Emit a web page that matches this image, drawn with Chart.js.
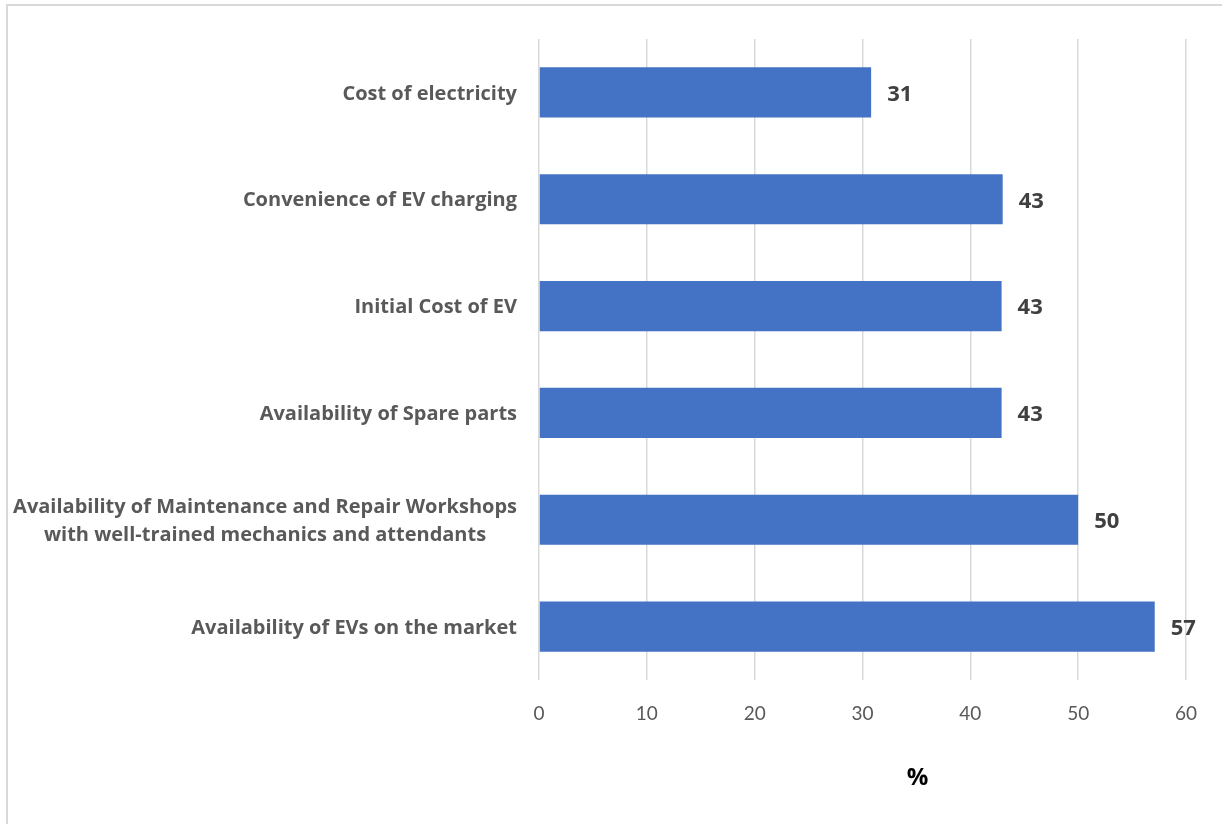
<!DOCTYPE html>
<html>
<head>
<meta charset="utf-8">
<script src="https://cdn.jsdelivr.net/npm/chart.js@4.4.0/dist/chart.umd.min.js"></script>
<style>
  html, body { margin: 0; padding: 0; background: #fff; }
  #wrap { position: relative; width: 1222px; height: 824px; overflow: hidden; }
  #frame { position: absolute; left: 6px; top: 4px; width: 1300px; height: 900px;
           border-top: 2px solid #d9d9d9; border-left: 2px solid #d9d9d9; }
  canvas { position: absolute; left: 0; top: 0; }
</style>
</head>
<body>
<div id="wrap">
  <div id="frame"></div>
  <canvas id="chart" width="1222" height="824"></canvas>
</div>
<script>
// categories, top to bottom
const categories = [
    'Cost of electricity',
    'Convenience of EV charging',
    'Initial Cost of EV',
    'Availability of Spare parts',
    ['Availability of Maintenance and Repair Workshops', 'with well-trained mechanics and attendants'],
    'Availability of EVs on the market'
];
// share of respondents, %
const values = [30.8, 43.0, 42.9, 42.9, 50.0, 57.1];
const xTicks = [0, 10, 20, 30, 40, 50, 60];
const xTitle = '%';

const LABEL_FONT = '"Open Sans", sans-serif';
const TICK_FONT = 'Lato, "Open Sans", sans-serif';

// y-axis labels drawn by hand so the two-line label stays centred on itself
const yLabelPlugin = {
    id: 'yLabels',
    afterDraw(chart) {
        const ctx = chart.ctx;
        const yScale = chart.scales.y;
        const right = chart.chartArea.left - 22;
        ctx.save();
        ctx.font = 'bold 20px ' + LABEL_FONT;
        ctx.fillStyle = '#595959';
        ctx.textAlign = 'center';
        ctx.textBaseline = 'middle';
        categories.forEach((lab, i) => {
            const lines = Array.isArray(lab) ? lab : [lab];
            const widest = Math.max(...lines.map(l => ctx.measureText(l).width));
            const cx = right - widest / 2;
            const y = yScale.getPixelForTick(i) + 1.5;
            const lh = 28;
            lines.forEach((l, j) => {
                ctx.fillText(l, cx, y + (j - (lines.length - 1) / 2) * lh);
            });
        });
        ctx.restore();
    }
};

// value at the end of each bar + the "%" axis title
const valueLabelPlugin = {
    id: 'valueLabels',
    afterDatasetsDraw(chart) {
        const ctx = chart.ctx;
        const meta = chart.getDatasetMeta(0);
        ctx.save();
        ctx.font = 'bold 22px ' + LABEL_FONT;
        ctx.fillStyle = '#404040';
        ctx.textAlign = 'left';
        ctx.textBaseline = 'middle';
        meta.data.forEach((bar, i) => {
            ctx.fillText(Math.round(values[i]), bar.x + 16, bar.y + 2);
        });
        const a = chart.chartArea;
        ctx.font = 'bold 24px ' + LABEL_FONT;
        ctx.fillStyle = '#000';
        ctx.textAlign = 'center';
        ctx.fillText(xTitle, (a.left + a.right) / 2 + 55, 778);
        ctx.restore();
    }
};

new Chart(document.getElementById('chart'), {
    type: 'bar',
    data: {
        labels: categories,
        datasets: [{
            data: values,
            backgroundColor: '#4472C4',
            categoryPercentage: 1,
            barPercentage: 0.47
        }]
    },
    options: {
        indexAxis: 'y',
        responsive: false,
        animation: false,
        layout: { padding: { top: 39, right: 36, left: 0, bottom: 0 } },
        plugins: {
            legend: { display: false },
            tooltip: { enabled: false }
        },
        scales: {
            x: {
                min: 0,
                max: 60,
                afterBuildTicks: s => { s.ticks = xTicks.map(v => ({ value: v })); },
                afterFit: s => { s.height = 144; },
                border: { display: false },
                grid: { color: '#d9d9d9', lineWidth: 1.5, drawTicks: false },
                ticks: {
                    padding: 22,
                    color: '#595959',
                    font: { family: TICK_FONT, size: 19 }
                }
            },
            y: {
                afterFit: s => { s.width = 539; },
                border: { display: false },
                grid: { display: false },
                ticks: { display: false }
            }
        }
    },
    plugins: [yLabelPlugin, valueLabelPlugin]
});
</script>
</body>
</html>
